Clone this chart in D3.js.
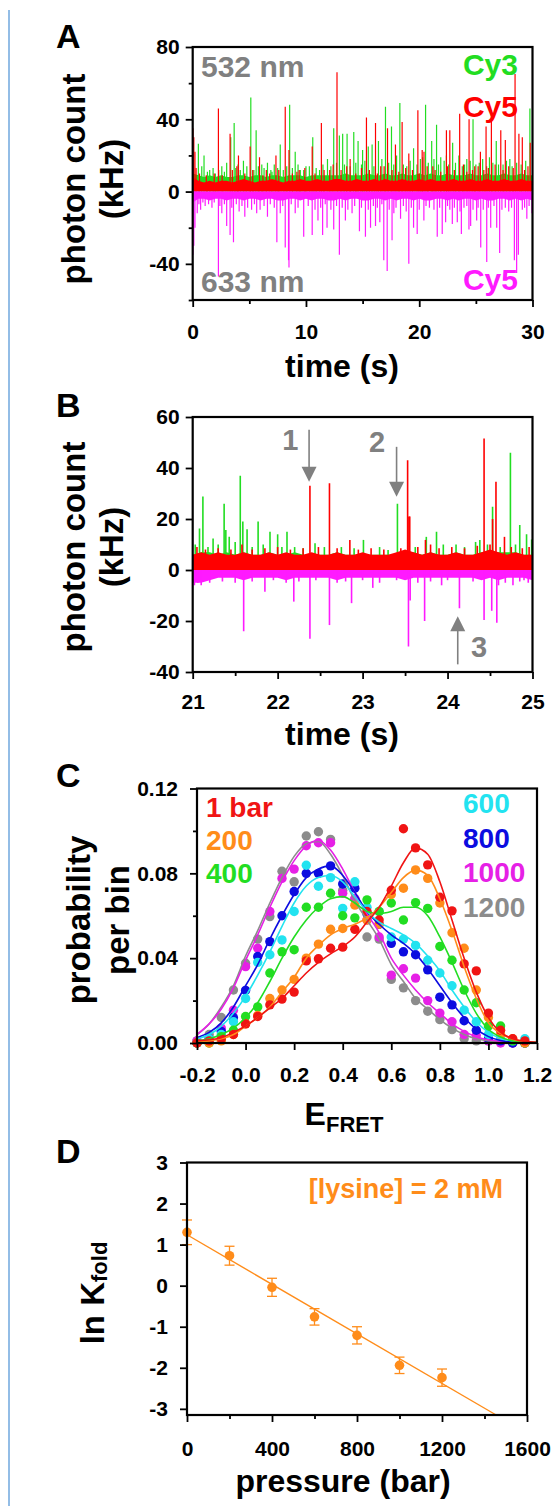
<!DOCTYPE html>
<html>
<head>
<meta charset="utf-8">
<script src="https://d3js.org/d3.v7.min.js"></script>
<style>
  body { margin: 0; background: #fff; }
  svg text { font-family: 'Liberation Sans', Arial, sans-serif; font-weight: bold; }
</style>
</head>
<body>
<svg id="fig" width="556" height="1506"></svg>
<script>
// ---------- panel A : 30 s trace, [time s, kHz] ----------
var aGreenSpikes = [[0.5,26.5],[1.0,20],[1.5,12],[2.0,10],[2.57,14],[3.0,16],[3.36,30],[3.66,38],[4.2,12],[4.48,17],[4.78,14],
  [5.13,52],[5.6,34],[6.1,15],[6.6,16],[7.0,11],[7.73,26],[8.56,48],[9.05,22],[9.5,12],[10.0,14],[10.6,30],[11.2,12],
  [11.9,18],[12.45,35],[12.95,31],[13.24,32],[13.63,32],[14.22,33],[14.6,28],[15.0,23],[15.5,25],[15.84,26],[16.4,28],
  [17.02,47],[17.55,36],[17.75,15],[18.29,49],[18.9,14],[19.5,24],[20.1,18],[20.56,48],[21.1,28],[21.53,37],[21.9,19],
  [22.4,20],[22.95,27],[23.8,14],[24.2,18],[24.75,40],[25.3,16],[26.2,19],[26.8,28],[27.4,15],[28.0,18],[29.77,46],
  [0.8,14],[1.3,11],[1.8,13],[2.3,12],[2.8,11],[3.8,13],[4.0,15],[5.4,12],[5.8,14],[6.3,13],[6.9,12],[7.2,15],[7.5,13],
  [8.0,12],[8.3,14],[8.8,13],[9.3,15],[9.8,12],[10.3,14],[10.9,13],[11.5,15],[12.2,14],[12.7,16],[13.4,15],[13.9,14],
  [14.4,16],[14.9,15],[15.2,17],[16.0,14],[16.7,18],[17.3,16],[18.0,20],[18.6,15],[19.2,17],[19.8,15],[20.3,19],
  [20.8,16],[21.3,18],[21.7,15],[22.2,17],[22.6,15],[23.2,16],[23.5,20],[24.0,15],[24.5,17],[25.0,15],[25.6,18],
  [25.95,14],[26.5,16],[27.0,15],[27.7,17],[28.2,14],[28.6,16],[29.0,15],[29.4,17]];
var aRedSpikes = [[0.02,35],[0.1,30],[0.2,22],[0.3,13],[2.27,46],[3.3,32],[4.04,20],[5.07,25],[5.9,19],[6.5,12],[7.35,20],
  [8.17,47],[8.5,23],[9.4,12],[10.55,25],[11.36,38],[12.1,12],[12.74,66],[13.9,18],[15.34,41],[16.14,38],[16.6,14],
  [17.2,35],[17.9,26],[18.49,38.5],[19.08,21],[19.88,45],[20.26,23],[20.42,22],[21.2,14],[22.4,34],[22.7,34],[23.57,43],
  [24.4,40],[24.9,14],[25.4,22],[25.9,36],[26.37,45],[27.2,34],[27.6,28.6],[28.46,65],[28.8,32],[29.1,30],[29.8,27],
  [0.6,10],[1.2,9],[1.9,10],[2.6,9],[3.5,12],[3.9,14],[4.6,10],[5.3,12],[6.2,9],[6.8,10],[7.6,12],[8.8,10],[9.2,11],
  [9.9,13],[10.8,10],[11.6,12],[12.4,15],[13.1,12],[13.6,14],[14.4,10],[14.9,13],[15.6,12],[16.3,10],[16.9,14],
  [17.6,12],[18.2,11],[18.8,13],[19.4,12],[20.0,10],[20.7,14],[21.4,12],[21.9,11],[22.5,14],[23.1,12],[23.9,15],
  [24.2,11],[24.7,12],[25.2,14],[25.7,12],[26.1,13],[26.7,15],[27.4,12],[27.9,14],[28.3,13],[29.3,12],[29.6,14]];
var aMagentaSpikes = [[0.02,-35],[0.1,-30],[0.2,-20],[0.4,-12],[0.7,-10],[1.1,-8],[1.7,-9],[2.27,-47],[2.57,-12],[3.0,-19],
  [3.3,-24],[3.6,-28],[4.1,-11],[4.6,-14],[5.2,-10],[5.65,-12],[5.95,-10],[6.6,-14],[7.43,-28],[7.73,-12],[8.17,-31],
  [8.46,-38],[8.5,-42],[9.05,-12],[9.8,-25],[10.55,-24],[11.06,-16],[11.47,-24],[11.86,-20],[12.45,-21],[12.95,-35],
  [13.48,-16],[14.07,-12],[14.72,-22],[15.25,-25],[15.7,-20],[16.14,-19],[16.52,-17],[16.87,-38],[17.17,-44],[17.6,-27],
  [17.76,-12],[18.35,-15],[19.08,-40],[19.5,-20],[19.82,-23.5],[20.41,-16],[21.59,-25],[22.03,-23.5],[22.33,-17],
  [22.92,-18],[23.36,-17],[23.72,-23.5],[24.39,-21],[24.54,-19],[25.07,-16],[25.43,-31],[25.96,-39],[26.31,-20],
  [26.84,-20],[27.1,-34],[28.4,-38],[28.6,-45],[28.75,-35],[29.5,-15],[29.95,-12],
  [0.55,-7],[0.9,-6],[1.4,-7],[1.9,-6],[2.4,-8],[2.8,-7],[3.45,-9],[3.85,-7],[4.35,-8],[4.85,-9],[5.45,-7],[6.3,-8],
  [6.85,-7],[7.2,-9],[7.95,-8],[8.7,-7],[9.3,-9],[10.2,-8],[10.8,-10],[11.3,-9],[11.7,-7],[12.2,-10],[12.7,-8],
  [13.2,-9],[13.7,-10],[14.3,-8],[14.9,-9],[15.5,-10],[15.95,-8],[16.3,-9],[16.7,-7],[17.35,-10],[17.95,-9],[18.6,-8],
  [18.85,-11],[19.3,-9],[20.0,-10],[20.6,-8],[20.9,-9],[21.3,-10],[21.8,-9],[22.5,-8],[22.7,-10],[23.1,-9],[23.6,-11],
  [23.95,-9],[24.2,-8],[24.75,-10],[25.2,-9],[25.65,-10],[26.1,-9],[26.6,-8],[27.3,-10],[27.6,-9],[27.9,-11],
  [28.15,-9],[29.1,-10],[29.3,-9],[29.7,-8]];
// noise band edges, one reading every 0.5 s
var aGreenBase = [10,9,8,9,8,9,8,8,9,9,8,9,9,8,9,9,8,9,9,9,8,9,9,9,9,9,9,10,9,9,9,10,9,9,10,9,9,10,9,9,10,9,10,9,9,
  10,9,9,9,10,9,9,10,9,9,10,9,9,10,9,9];
var aRedBase = [8,6,5,6,5,6,6,5,6,7,6,5,6,6,7,6,5,6,6,7,6,6,7,6,6,7,7,6,6,7,6,6,7,6,7,6,6,7,6,6,7,6,7,6,6,6,7,6,6,7,
  6,6,7,6,6,7,6,6,7,6,6];
var aMagentaBase = [-6,-4,-4,-5,-4,-4,-5,-4,-4,-5,-4,-4,-5,-4,-4,-5,-5,-4,-4,-5,-4,-5,-4,-4,-5,-5,-4,-5,-4,-4,-5,-5,
  -4,-4,-5,-4,-5,-4,-4,-5,-4,-5,-5,-4,-4,-5,-4,-5,-4,-4,-5,-4,-5,-5,-4,-4,-5,-4,-5,-4,-5];
var aXMajor = [0,10,20,30], aXMinor = [5,15,25];
var aYMajor = [-40,0,40,80], aYMinor = [-60,-20,20,60];

// ---------- panel B : zoom 21-25 s ----------
var bGreenSpikes = [[21.08,16.3],[21.12,28.8],[21.24,12.4],[21.37,26],[21.39,15.7],[21.43,13],[21.56,37],[21.59,19],
  [21.64,16],[21.77,19],[21.91,15],[22.0,14],[22.05,9],[22.11,15],[22.44,10.5],[23.01,11.8],[23.3,7.8],[23.41,26],
  [23.75,13],[23.87,15],[24.1,10],[24.33,11],[24.38,11.8],[24.53,24.8],[24.74,46],[24.85,17.6],[24.93,14],[24.99,12],
  [21.03,10],[21.18,9],[21.3,10],[21.5,11],[21.7,9],[21.83,10],[22.2,9],[22.3,8.5],[22.55,9],[22.75,9],[22.9,8.5],
  [23.2,9],[23.62,9],[23.95,10],[24.2,9],[24.47,10],[24.62,9],[24.8,10]];
var bRedSpikes = [[22.38,33],[22.61,34],[22.85,11.8],[23.53,43],[23.545,21],[23.555,21],[23.74,11.8],[24.43,51.6],
  [24.53,20],[24.57,34.6],[24.67,13],
  [21.05,9],[21.15,8],[21.3,8.5],[21.45,8],[21.58,10],[21.7,8],[21.85,8.5],[22.0,9],[22.15,8],[22.3,8.5],[22.48,9],
  [22.7,8.5],[22.95,8],[23.1,8.5],[23.25,8],[23.45,8.5],[23.65,9],[23.8,10],[23.9,8.5],[24.05,9],[24.2,8.5],
  [24.35,9.5],[24.5,10],[24.75,9],[24.88,8.5],[24.96,9]];
var bMagentaSpikes = [[21.6,-24],[21.85,-8.5],[22.19,-12.4],[22.38,-27],[22.61,-21.6],[22.87,-13],[23.12,-7],[23.54,-30],
  [23.56,-12],[23.73,-20],[23.93,-6],[24.14,-15],[24.43,-19.6],[24.52,-16],[24.58,-20.7],[24.77,-6],[24.9,-4],
  [21.02,-6],[21.06,-5],[21.1,-6],[21.2,-5],[21.35,-4.5],[21.5,-5],[21.7,-4.5],[21.95,-4],[22.1,-5],[22.25,-4.5],
  [22.45,-4],[22.7,-5],[22.8,-4.5],[23.0,-4],[23.2,-5],[23.4,-4],[23.65,-5],[23.8,-4.5],[24.0,-4],[24.3,-4.5],
  [24.6,-6],[24.68,-5],[24.85,-4.5],[24.95,-5]];
// noise band edges, one reading every 0.1 s
var bGreenBase = [6,7,7,6,7,6,7,6,6,7,6,6,7,6,6,6,6,7,6,6,6,6,6,6,6,7,7,6,7,6,6,7,6,6,7,7,7,7,7,6,6];
var bRedBase = [6,7,6,7,6,6,7,6,6,7,6,7,6,6,7,6,6,7,6,6,7,6,6,6,7,8,7,6,7,6,6,7,6,6,7,8,7,6,7,6,6];
var bMagentaBase = [-5,-5,-4,-3,-3,-3,-4,-3,-3,-3,-3,-4,-3,-3,-3,-3,-3,-4,-3,-3,-3,-3,-3,-3,-3,-4,-3,-3,-3,-3,-3,-3,
  -3,-3,-4,-3,-4,-3,-3,-3,-4];
var bXMajor = [21,22,23,24,25], bXMinor = [21.5,22.5,23.5,24.5];
var bYMajor = [-40,-20,0,20,40,60];
var bArrows = [
  {label: '1', t: 22.37, from: 55, to: 34.6, lt: 22.15, lv: 47},
  {label: '2', t: 23.40, from: 48.3, to: 28.7, lt: 23.17, lv: 46.3},
  {label: '3', t: 24.12, from: -37, to: -18.1, lt: 24.37, lv: -34.1}
];

// ---------- panel C : FRET histograms ----------
var eBins = [-0.2,-0.15,-0.1,-0.05,0,0.05,0.1,0.15,0.2,0.25,0.3,0.35,0.4,0.45,0.5,0.55,0.6,0.65,0.7,0.75,0.8,0.85,0.9,
  0.95,1.0,1.05,1.1,1.15];
var eFit = [-0.2,-0.15,-0.1,-0.05,0,0.05,0.1,0.15,0.2,0.25,0.3,0.35,0.4,0.45,0.5,0.55,0.6,0.65,0.7,0.75,0.8,0.85,0.9,
  0.95,1.0,1.05,1.1,1.15,1.2];
var pressureLabels = ['1 bar','200','400','600','800','1000','1200'];
var seriesColors = ['#f01414','#ff8c1a','#22dd22','#22e3f0','#0c0ce0','#e620e6','#8c8c8c'];
var dots1 = [0,0.001,0.002,0.004,0.009,0.0125,0.018,0.0207,0.024,0.0387,0.0397,0.0447,0.0452,0.0536,0.062,0.058,
  0.072,0.101,0.092,0.084,0.0687,0.0623,0.0373,0.034,0.0141,0.006,0.002,0.001];
var dots200 = [0,0,0.001,0.004,0.009,0.013,0.021,0.025,0.030,0.040,0.0466,0.0536,0.054,0.065,0.058,0.056,0.070,0.073,
  0.0816,0.0776,0.066,0.052,0.0447,0.025,0.012,0.004,0.002,0];
var dots400 = [0,0,0.003,0.006,0.0125,0.017,0.033,0.043,0.044,0.064,0.064,0.0706,0.060,0.059,0.0675,0.062,0.066,0.058,
  0.0662,0.0635,0.0455,0.039,0.025,0.019,0.008,0.008,0.001,0];
var dots600 = [0,0.002,0.004,0.010,0.021,0.038,0.0416,0.0486,0.062,0.0838,0.0739,0.078,0.0635,0.076,0.064,0.062,0.050,
  0.049,0.046,0.039,0.033,0.027,0.0155,0.010,0.004,0.002,0.001,0.002];
var dots800 = [0,0.002,0.0055,0.012,0.0248,0.0408,0.0478,0.060,0.0714,0.080,0.080,0.0835,0.075,0.073,0.061,0.056,0.047,
  0.043,0.0416,0.0345,0.0216,0.018,0.0105,0.006,0.002,0.001,0,0];
var dots1000 = [0.001,0.002,0.007,0.0155,0.036,0.0447,0.062,0.0776,0.082,0.093,0.0944,0.0944,0.0706,0.068,0.058,0.050,
  0.032,0.035,0.0306,0.020,0.0141,0.010,0.004,0.0035,0.001,0,0,0];
var dots1200 = [0.001,0.004,0.012,0.025,0.0376,0.049,0.0596,0.081,0.076,0.0976,0.0996,0.096,0.072,0.068,0.050,0.049,
  0.030,0.026,0.020,0.015,0.011,0.0063,0.002,0.001,0.001,0.0005,0,0];
var fit1 = [0.001,0.0015,0.0025,0.005,0.008,0.012,0.0165,0.021,0.027,0.033,0.038,0.042,0.0455,0.050,0.057,0.064,0.074,
  0.085,0.092,0.089,0.076,0.058,0.040,0.024,0.012,0.005,0.002,0.0008,0.0003];
var fit200 = [0.0005,0.001,0.002,0.004,0.008,0.012,0.017,0.024,0.031,0.040,0.046,0.051,0.054,0.056,0.059,0.064,0.071,
  0.078,0.0815,0.079,0.068,0.053,0.036,0.021,0.0095,0.0045,0.0018,0.0007,0.0002];
var fit400 = [0.001,0.002,0.004,0.007,0.012,0.019,0.029,0.040,0.050,0.058,0.064,0.068,0.069,0.066,0.062,0.061,0.062,
  0.064,0.064,0.060,0.050,0.038,0.025,0.014,0.0065,0.0028,0.001,0.0004,0.0001];
var fit600 = [0.002,0.004,0.008,0.014,0.022,0.032,0.043,0.055,0.066,0.074,0.078,0.079,0.076,0.069,0.062,0.057,0.054,
  0.051,0.047,0.041,0.034,0.025,0.017,0.010,0.005,0.0022,0.001,0.0004,0.0002];
var fit800 = [0.0025,0.005,0.0095,0.017,0.027,0.037,0.049,0.060,0.070,0.078,0.082,0.0835,0.079,0.071,0.062,0.056,0.051,
  0.047,0.042,0.035,0.027,0.019,0.012,0.0065,0.003,0.0012,0.0005,0.0002,0.0001];
var fit1000 = [0.004,0.009,0.016,0.026,0.039,0.051,0.064,0.076,0.086,0.093,0.0955,0.091,0.082,0.071,0.061,0.052,0.040,
  0.032,0.025,0.019,0.014,0.009,0.0055,0.003,0.0015,0.0007,0.0003,0.0001,0];
var fit1200 = [0.004,0.009,0.017,0.027,0.041,0.053,0.066,0.078,0.088,0.094,0.095,0.089,0.079,0.067,0.058,0.049,0.037,
  0.029,0.021,0.016,0.011,0.007,0.004,0.002,0.001,0.0005,0.0002,0.0001,0];
var cXMajor = [-0.2,0,0.2,0.4,0.6,0.8,1.0,1.2];
var cYMajor = [0,0.04,0.08,0.12], cYMinor = [0.02,0.06,0.10];

// ---------- panel D : ln K vs pressure ----------
var pressures = [0,200,400,600,800,1000,1200];
var lnK = [1.30,0.73,-0.04,-0.76,-1.21,-1.94,-2.24];
var lnKerr = [0.30,0.23,0.22,0.20,0.21,0.20,0.21];
var fitLine = [[0,1.24],[1455,-3.15]];
var dXMajor = [0,400,800,1200,1600], dXMinor = [200,600,1000,1400];
var dYMajor = [-3,-2,-1,0,1,2,3];

// ---------- drawing ----------
var svg = d3.select('#fig');
svg.append('rect').attr('width',556).attr('height',1506).attr('fill','#fff');
svg.append('line').attr('x1',9).attr('x2',9).attr('y1',10).attr('y2',1506)
  .attr('stroke','#93bde6').attr('stroke-width',2);

var plain = function(d){ return String(d); };

function styleTicks(sel) {
  sel.select('.domain').remove();
  sel.selectAll('.tick line').attr('stroke','#000').attr('stroke-width',1.8);
  sel.selectAll('.tick text').attr('font-size',21).attr('fill','#000');
}

function axes(g, x, y, o) {
  var w = x.range()[1], h = y.range()[0];
  if (o.xMinor) g.append('g').attr('transform',`translate(0,${h})`)
    .call(d3.axisBottom(x).tickValues(o.xMinor).tickSize(4).tickFormat('')).call(styleTicks);
  g.append('g').attr('transform',`translate(0,${h})`)
    .call(d3.axisBottom(x).tickValues(o.xMajor).tickSize(7).tickPadding(o.xPad).tickFormat(o.xFmt)).call(styleTicks);
  if (o.yMinor) g.append('g')
    .call(d3.axisLeft(y).tickValues(o.yMinor).tickSize(4).tickFormat('')).call(styleTicks);
  g.append('g')
    .call(d3.axisLeft(y).tickValues(o.yMajor).tickSize(7).tickPadding(o.yPad).tickFormat(o.yFmt)).call(styleTicks);
  g.append('rect').attr('width',w).attr('height',h).attr('fill','none')
    .attr('stroke','#000').attr('stroke-width',2.2);
}

function clip(g, id, w, h) {
  g.append('clipPath').attr('id',id).append('rect').attr('width',w).attr('height',h);
  return g.append('g').attr('clip-path',`url(#${id})`);
}

function trace(g, x, y, base, times, spikes, color, sw) {
  g.append('path').datum(base)
    .attr('d', d3.area().x(function(d,i){ return x(times[i]); }).y0(y(0)).y1(function(d){ return y(d); }))
    .attr('fill',color);
  g.selectAll(null).data(spikes).join('line')
    .attr('x1',function(d){ return x(d[0]); }).attr('x2',function(d){ return x(d[0]); })
    .attr('y1',y(0)).attr('y2',function(d){ return y(d[1]); })
    .attr('stroke',color).attr('stroke-width',sw);
}

function ylabel(lines, cy) {
  lines.forEach(function(l){
    svg.append('text').attr('transform',`translate(${l.x},${cy}) rotate(-90)`)
      .attr('text-anchor','middle').attr('dominant-baseline','central')
      .attr('font-size',33).attr('fill','#000').text(l.t);
  });
}

function letter(t, x, y) {
  svg.append('text').attr('x',x).attr('y',y).attr('font-size',34).attr('fill','#000').text(t);
}

function note(t, x, y, color, size, anchor) {
  svg.append('text').attr('x',x).attr('y',y).attr('font-size',size).attr('fill',color)
    .attr('text-anchor',anchor || 'start').text(t);
}

// ---- A ----
(function(){
  var box = {left:192.7, top:47, w:339.8, h:253};
  var g = svg.append('g').attr('transform',`translate(${box.left},${box.top})`);
  var x = d3.scaleLinear().domain([0,30]).range([0,box.w]);
  var y = d3.scaleLinear().domain([-60,80]).range([box.h,0]);
  var times = d3.range(0, 30.001, 0.5);
  var c = clip(g,'clipA',box.w,box.h);
  trace(c, x, y, aGreenBase, times, aGreenSpikes, '#22dd22', 1.2);
  trace(c, x, y, aRedBase, times, aRedSpikes, '#ff0000', 1.2);
  trace(c, x, y, aMagentaBase, times, aMagentaSpikes, '#ff1aff', 1.2);
  axes(g, x, y, {xMajor:aXMajor, xMinor:aXMinor, yMajor:aYMajor, yMinor:aYMinor,
    xPad:17, yPad:6, xFmt:plain, yFmt:plain});
  note('532 nm', 201, 77, '#808080', 30);
  note('633 nm', 201, 292, '#808080', 30);
  note('Cy3', 518, 75, '#22dd22', 30, 'end');
  note('Cy5', 518, 117, '#ff0000', 30, 'end');
  note('Cy5', 518, 290, '#ff1aff', 30, 'end');
  note('time (s)', 342, 377, '#000', 32, 'middle');
  ylabel([{t:'photon count', x:73},{t:'(kHz)', x:111}], 179);
  letter('A', 56, 48);
})();

// ---- B ----
(function(){
  var box = {left:192.7, top:417, w:339.8, h:255};
  var g = svg.append('g').attr('transform',`translate(${box.left},${box.top})`);
  var x = d3.scaleLinear().domain([21,25]).range([0,box.w]);
  var y = d3.scaleLinear().domain([-40,60]).range([box.h,0]);
  var times = d3.range(21, 25.001, 0.1);
  var c = clip(g,'clipB',box.w,box.h);
  trace(c, x, y, bGreenBase, times, bGreenSpikes, '#22dd22', 1.6);
  trace(c, x, y, bRedBase, times, bRedSpikes, '#ff0000', 1.6);
  trace(c, x, y, bMagentaBase, times, bMagentaSpikes, '#ff1aff', 1.6);
  axes(g, x, y, {xMajor:bXMajor, xMinor:bXMinor, yMajor:bYMajor,
    xPad:15, yPad:6, xFmt:plain, yFmt:plain});
  bArrows.forEach(function(a){
    var ax = x(a.t), y0 = y(a.from), y1 = y(a.to);
    var dir = y1 > y0 ? 1 : -1;
    g.append('line').attr('x1',ax).attr('x2',ax).attr('y1',y0).attr('y2',y1 - dir*14)
      .attr('stroke','#808080').attr('stroke-width',1.6);
    g.append('path').attr('d',`M${ax-7.5},${y1-dir*15}L${ax+7.5},${y1-dir*15}L${ax},${y1}Z`).attr('fill','#808080');
    g.append('text').attr('x',x(a.lt)).attr('y',y(a.lv)).attr('text-anchor','middle')
      .attr('font-size',29).attr('fill','#808080').text(a.label);
  });
  note('time (s)', 342, 745, '#000', 32, 'middle');
  ylabel([{t:'photon count', x:73},{t:'(kHz)', x:111}], 547);
  letter('B', 56, 417);
})();

// ---- C ----
(function(){
  var box = {left:197, top:788.5, w:340, h:254.5};
  var g = svg.append('g').attr('transform',`translate(${box.left},${box.top})`);
  var x = d3.scaleLinear().domain([-0.2,1.2]).range([0,box.w]);
  var y = d3.scaleLinear().domain([0,0.12]).range([box.h,0]);
  var dots = [dots1,dots200,dots400,dots600,dots800,dots1000,dots1200];
  var fits = [fit1,fit200,fit400,fit600,fit800,fit1000,fit1200];
  var line = d3.line().x(function(d,i){ return x(eFit[i]); }).y(function(d){ return y(d); }).curve(d3.curveMonotoneX);
  for (var k = dots.length - 1; k >= 0; k--) {
    g.selectAll(null).data(dots[k]).join('circle')
      .attr('cx',function(d,i){ return x(eBins[i]); }).attr('cy',function(d){ return y(d); })
      .attr('r',4.7).attr('fill',seriesColors[k]);
  }
  for (var k = fits.length - 1; k >= 0; k--) {
    g.append('path').datum(fits[k]).attr('d',line).attr('fill','none')
      .attr('stroke',seriesColors[k]).attr('stroke-width',1.6);
  }
  axes(g, x, y, {xMajor:cXMajor, yMajor:cYMajor, yMinor:cYMinor,
    xPad:17, yPad:12, xFmt:function(d){ return d.toFixed(1); }, yFmt:function(d){ return d.toFixed(2); }});
  var left = [[0,817],[1,850],[2,883]], right = [[3,813],[4,848],[5,882],[6,917]];
  left.forEach(function(p){ note(pressureLabels[p[0]], 206, p[1], seriesColors[p[0]], 28); });
  right.forEach(function(p){ note(pressureLabels[p[0]], 463, p[1], seriesColors[p[0]], 28); });
  var t = svg.append('text').attr('x',344).attr('y',1125).attr('text-anchor','middle').attr('font-size',32).attr('fill','#000');
  t.append('tspan').text('E');
  t.append('tspan').attr('font-size',22).attr('dy',7).text('FRET');
  ylabel([{t:'probability', x:78},{t:'per bin', x:117}], 920);
  letter('C', 56, 787);
})();

// ---- D ----
(function(){
  var box = {left:187, top:1162.5, w:340, h:252.5};
  var g = svg.append('g').attr('transform',`translate(${box.left},${box.top})`);
  var x = d3.scaleLinear().domain([0,1600]).range([0,box.w]);
  var y = d3.scaleLinear().domain([-3.15,3]).range([box.h,0]);
  var orange = '#ff8c1a';
  g.append('path').datum(fitLine).attr('d', d3.line().x(function(d){ return x(d[0]); }).y(function(d){ return y(d[1]); }))
    .attr('stroke',orange).attr('stroke-width',1.4).attr('fill','none');
  pressures.forEach(function(p,i){
    var px = x(p), top = y(lnK[i] + lnKerr[i]), bot = y(lnK[i] - lnKerr[i]);
    g.append('line').attr('x1',px).attr('x2',px).attr('y1',top).attr('y2',bot).attr('stroke',orange).attr('stroke-width',1.3);
    g.append('line').attr('x1',px-5).attr('x2',px+5).attr('y1',top).attr('y2',top).attr('stroke',orange).attr('stroke-width',1.3);
    g.append('line').attr('x1',px-5).attr('x2',px+5).attr('y1',bot).attr('y2',bot).attr('stroke',orange).attr('stroke-width',1.3);
    g.append('circle').attr('cx',px).attr('cy',y(lnK[i])).attr('r',4.8).attr('fill',orange);
  });
  axes(g, x, y, {xMajor:dXMajor, xMinor:dXMinor, yMajor:dYMajor,
    xPad:19, yPad:12, xFmt:plain, yFmt:plain});
  note('[lysine] = 2 mM', 503, 1198, orange, 27, 'end');
  note('pressure (bar)', 343, 1492, '#000', 32, 'middle');
  var t = svg.append('text').attr('transform','translate(92,1293) rotate(-90)').attr('text-anchor','middle')
    .attr('dominant-baseline','central').attr('font-size',33).attr('fill','#000');
  t.append('tspan').text('ln K');
  t.append('tspan').attr('font-size',22).attr('dy',7).text('fold');
  letter('D', 56, 1163);
})();
</script>
</body>
</html>
